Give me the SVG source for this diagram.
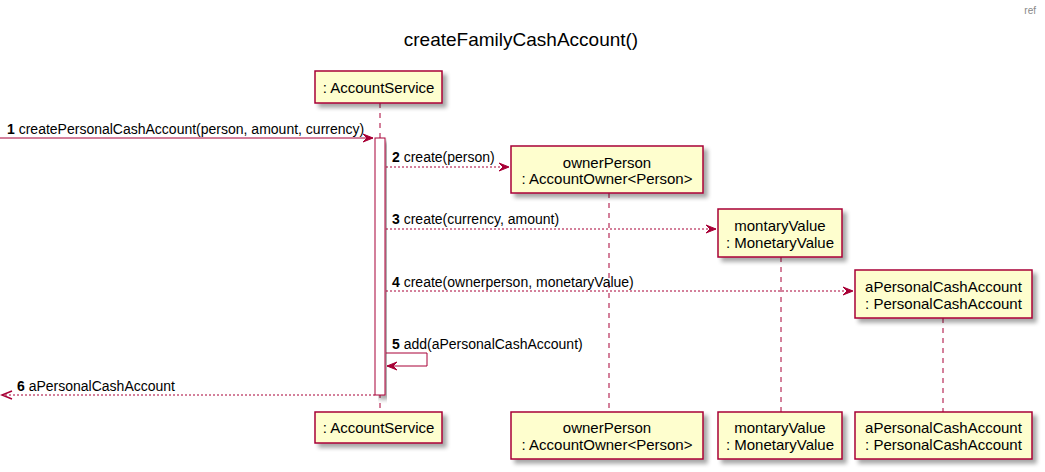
<svg xmlns="http://www.w3.org/2000/svg" width="1045" height="472" viewBox="0 0 1045 472">
<defs>
<filter id="sh" x="-10%" y="-10%" width="130%" height="140%">
<feGaussianBlur in="SourceAlpha" stdDeviation="2"/>
<feOffset dx="4" dy="4" result="b"/>
<feComponentTransfer><feFuncA type="linear" slope="0.35"/></feComponentTransfer>
<feMerge><feMergeNode/><feMergeNode in="SourceGraphic"/></feMerge>
</filter>
</defs>
<style>
.box{fill:#FEFECE;stroke:#A80036;stroke-width:1.5;filter:url(#sh)}
.act{fill:#FFFFFF;stroke:#A80036;stroke-width:1;filter:url(#sh)}
.life{stroke:#A80036;stroke-width:1;stroke-dasharray:5,5;fill:none}
.pt{font-family:"Liberation Sans",Arial,sans-serif;font-size:15px;fill:#000;text-anchor:middle}
.ml{font-family:"Liberation Sans",Arial,sans-serif;font-size:14px;fill:#000}
.num{font-weight:bold}
.msg{stroke:#A80036;stroke-width:1;fill:none}
.dash{stroke-dasharray:2,2}
.head{fill:#A80036;stroke:#A80036;stroke-width:1}
.open{fill:none;stroke:#A80036;stroke-width:1.5}
</style>
<rect width="1045" height="472" fill="#FFFFFF"/>
<text x="1036" y="14" font-family="Liberation Sans,Arial,sans-serif" font-size="10" fill="#888888" text-anchor="end">ref</text>
<text x="521" y="46" font-family="Liberation Sans,Arial,sans-serif" font-size="19" fill="#000" text-anchor="middle">createFamilyCashAccount()</text>

<g id="accountService">
<line class="life" x1="380" y1="103" x2="380" y2="412"/>
<rect class="box" x="315" y="71" width="127" height="32"/>
<text class="pt" x="378.5" y="92.5">: AccountService</text>
<rect class="box" x="315" y="412" width="127" height="31"/>
<text class="pt" x="378.5" y="433">: AccountService</text>
<rect class="act" x="375" y="138" width="10" height="257"/>
</g>

<g id="ownerPerson">
<line class="life" x1="609" y1="193" x2="609" y2="412"/>
<rect class="box" x="511" y="146" width="192" height="47"/>
<text class="pt" x="607" y="167.5">ownerPerson</text>
<text class="pt" x="607" y="184">: AccountOwner&lt;Person&gt;</text>
<rect class="box" x="511" y="412" width="192" height="47"/>
<text class="pt" x="607" y="433">ownerPerson</text>
<text class="pt" x="607" y="450">: AccountOwner&lt;Person&gt;</text>
</g>

<g id="montaryValue">
<line class="life" x1="781" y1="257" x2="781" y2="412"/>
<rect class="box" x="718" y="209" width="124" height="48"/>
<text class="pt" x="780" y="230.5">montaryValue</text>
<text class="pt" x="780" y="247.5">: MonetaryValue</text>
<rect class="box" x="718" y="412" width="124" height="47"/>
<text class="pt" x="780" y="433">montaryValue</text>
<text class="pt" x="780" y="450">: MonetaryValue</text>
</g>

<g id="aPersonalCashAccount">
<line class="life" x1="943" y1="318" x2="943" y2="412"/>
<rect class="box" x="855" y="270" width="177" height="48"/>
<text class="pt" x="943.5" y="291.5">aPersonalCashAccount</text>
<text class="pt" x="943.5" y="308.5">: PersonalCashAccount</text>
<rect class="box" x="855" y="412" width="177" height="47"/>
<text class="pt" x="943.5" y="433">aPersonalCashAccount</text>
<text class="pt" x="943.5" y="450">: PersonalCashAccount</text>
</g>

<g id="connectors">
<line class="msg" x1="0" y1="138" x2="373" y2="138"/>
<polygon class="head" points="363,134 373,138 363,142 367,138"/>
<text class="ml" x="7" y="134"><tspan class="num">1</tspan> createPersonalCashAccount(person, amount, currency)</text>

<line class="msg dash" x1="386" y1="167" x2="509" y2="167"/>
<polygon class="head" points="499,163 509,167 499,171 503,167"/>
<text class="ml" x="392" y="162"><tspan class="num">2</tspan> create(person)</text>

<line class="msg dash" x1="386" y1="229" x2="716" y2="229"/>
<polygon class="head" points="706,225 716,229 706,233 710,229"/>
<text class="ml" x="392" y="224"><tspan class="num">3</tspan> create(currency, amount)</text>

<line class="msg dash" x1="386" y1="291" x2="853" y2="291"/>
<polygon class="head" points="843,287 853,291 843,295 847,291"/>
<text class="ml" x="392" y="287"><tspan class="num">4</tspan> create(ownerperson, monetaryValue)</text>

<polyline class="msg" points="386,353 427,353 427,366 387,366"/>
<polygon class="head" points="397,362 387,366 397,370 393,366"/>
<text class="ml" x="392" y="349"><tspan class="num">5</tspan> add(aPersonalCashAccount)</text>

<line class="msg dash" x1="375" y1="395" x2="2" y2="395"/>
<polyline class="open" points="12,391 2,395 12,399"/>
<text class="ml" x="17" y="391"><tspan class="num">6</tspan> aPersonalCashAccount</text>
</g>
</svg>
